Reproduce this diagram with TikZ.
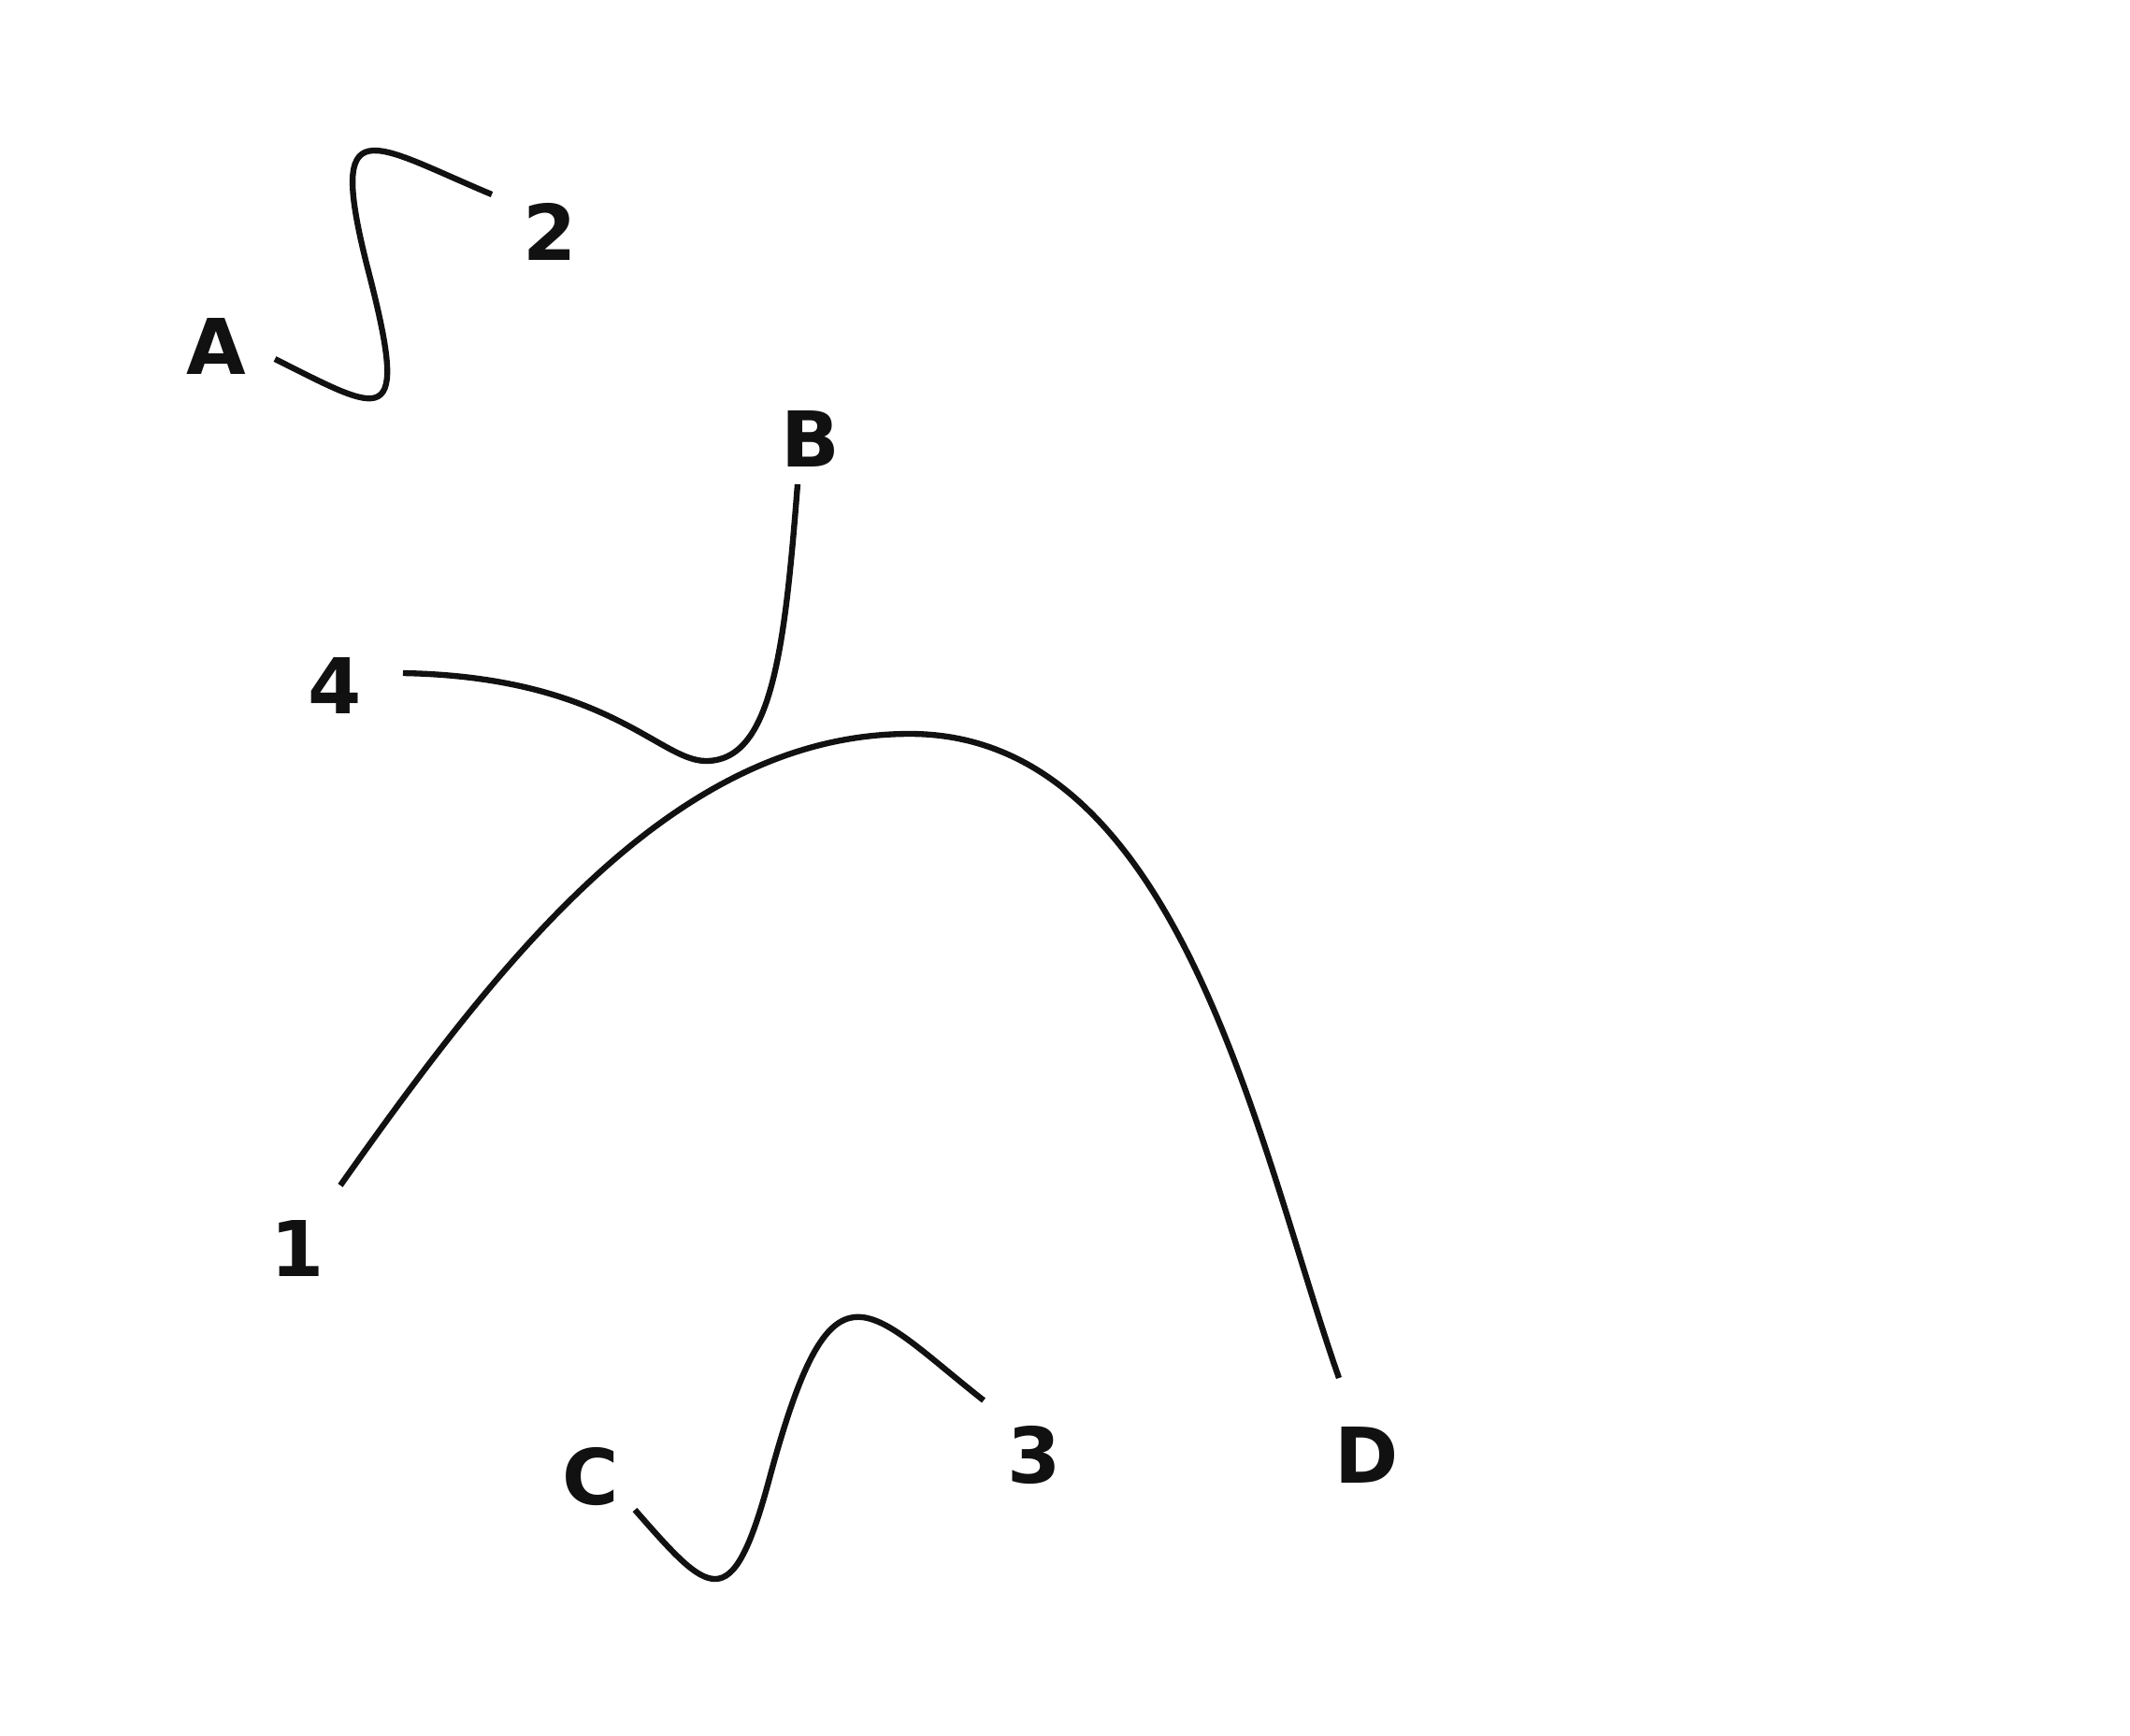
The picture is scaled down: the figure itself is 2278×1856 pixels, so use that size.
\documentclass[tikz,border=0pt]{standalone}
\usepackage{fontspec}
\setmainfont{DejaVu Sans}
\definecolor{ink}{HTML}{111111}

\begin{document}
\begin{tikzpicture}[
        x=0.01cm, y=-0.01cm,
        tag/.style={
            font=\bfseries\fontsize{23.4}{28}\selectfont,
            text=ink,
            inner sep=0pt
        },
        wire/.style={draw=ink, line width=1.8pt}
    ]

    \fill[white] (0,0) rectangle (2278,1856);
    \useasboundingbox (0,0) rectangle (2278,1856);

    % --- LABELS ---
    \node (A) [tag] at (231,370) {A};
    \node (B) [tag] at (867,469) {B};
    \node (C) [tag] at (632,1580) {C};
    \node (D) [tag] at (1462,1556) {D};

    \node (n1) [tag] at (318,1335) {1};
    \node (n2) [tag] at (588,248) {2};
    \node (n3) [tag] at (1106,1557) {3};
    \node (n4) [tag] at (358,733) {4};

    % --- CURVE ENDS ---
    \coordinate (A-tip) at (294,384);
    \coordinate (A-bend) at (394,290);
    \coordinate (n2-tip) at (526,208);

    \coordinate (B-tip) at (853,518);
    \coordinate (B-bend) at (755,814);
    \coordinate (n4-tip) at (431,720);

    \coordinate (n1-tip) at (364,1268);
    \coordinate (D-bend) at (973,785);
    \coordinate (D-tip) at (1432,1474);

    \coordinate (C-tip) at (679,1615);
    \coordinate (C-bend) at (822.5,1583);
    \coordinate (n3-tip) at (1052,1498);

    % --- CURVES ---
    \draw [wire] (A-tip) .. controls (410,442) and (439,464) .. (A-bend)
        .. controls (348,111) and (397,154) .. (n2-tip);

    \draw [wire] (B-tip) .. controls (839,698) and (825,814) .. (B-bend)
        .. controls (705,814) and (650,724) .. (n4-tip);

    \draw [wire] (n1-tip) .. controls (537,1023) and (723,785) .. (D-bend)
        .. controls (1263,785) and (1346,1229) .. (D-tip);

    \draw [wire] (C-tip) .. controls (758,1705) and (782,1733) .. (C-bend)
        .. controls (890,1332) and (925,1398) .. (n3-tip);

\end{tikzpicture}
\end{document}
